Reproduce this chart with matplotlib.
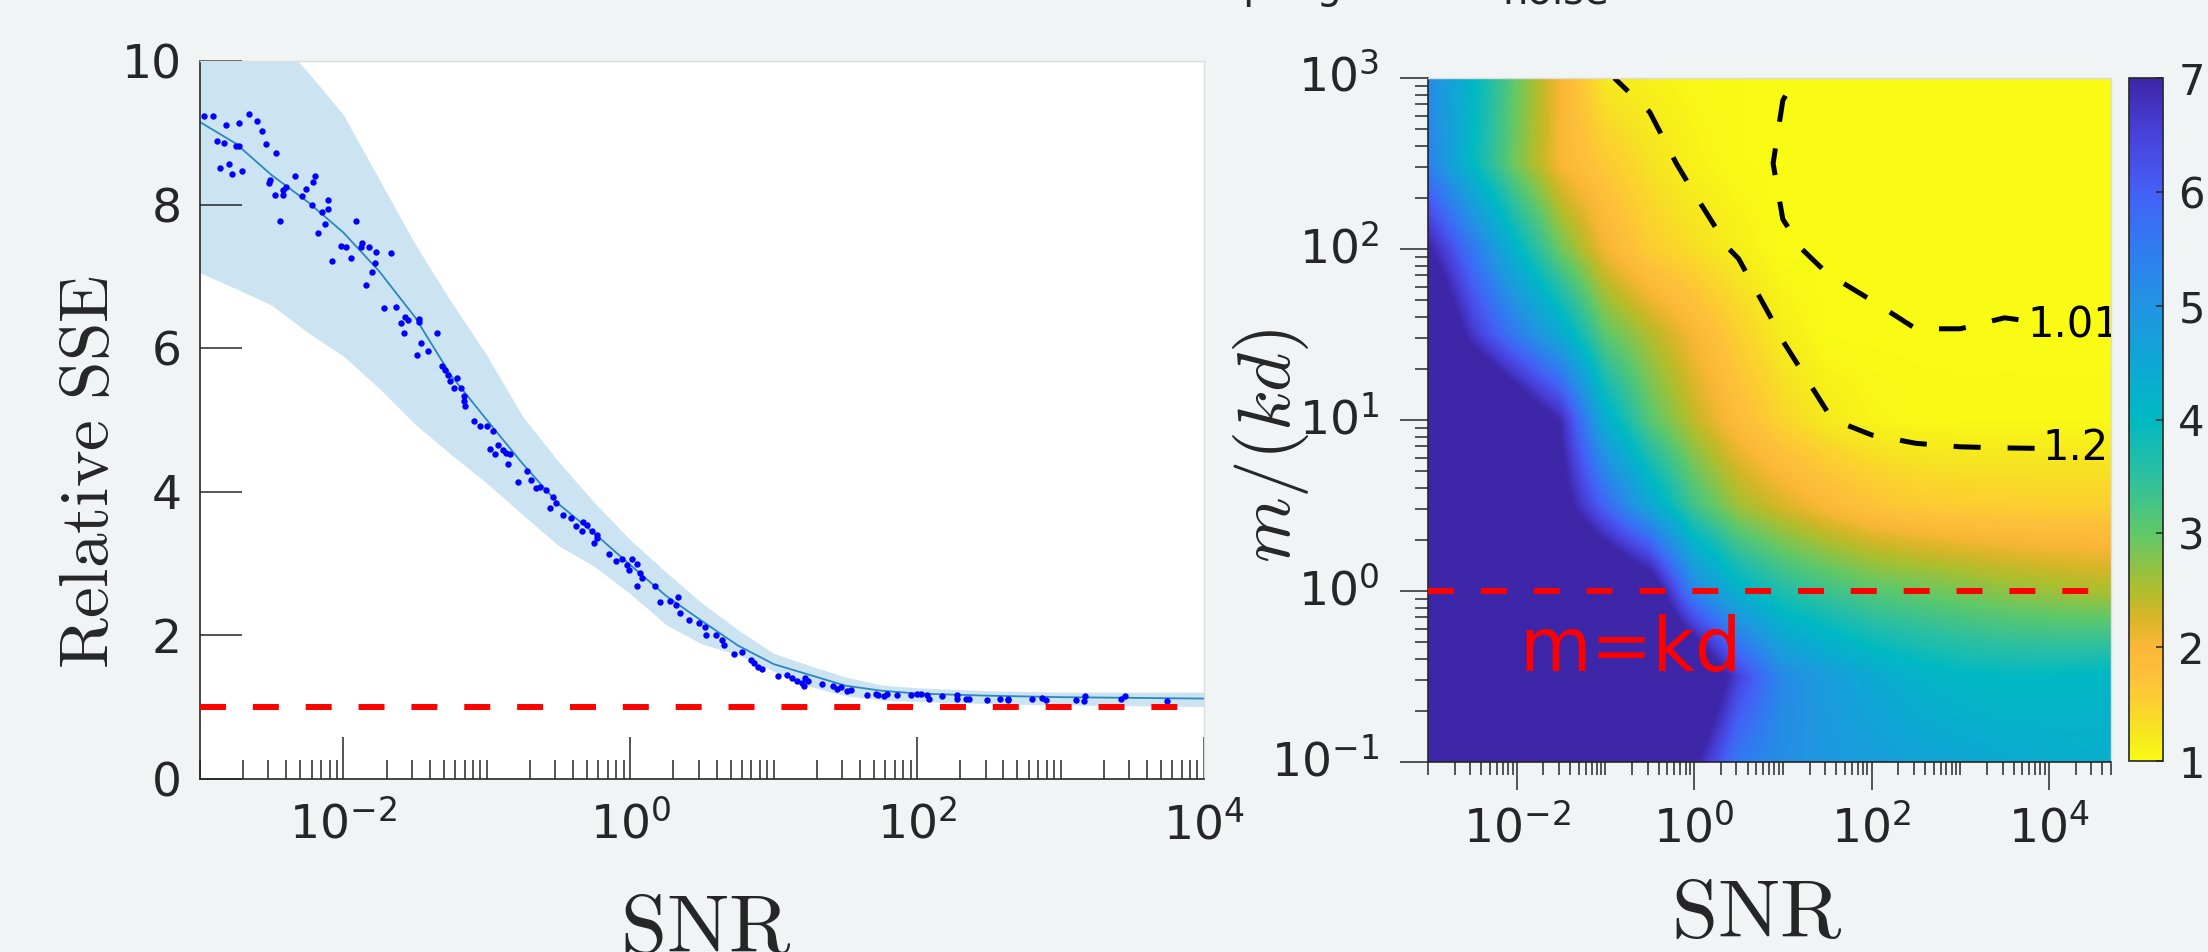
import numpy as np
import matplotlib
matplotlib.use('Agg')
import matplotlib.pyplot as plt
from matplotlib.colors import LinearSegmentedColormap
from matplotlib.ticker import FixedLocator, FixedFormatter, NullFormatter

plt.rcParams['font.family'] = ['DejaVu Sans']
plt.rcParams['mathtext.fontset'] = 'dejavusans'

DARK = '#262626'

# ---------------- left panel data (log10 SNR, relative SSE) ----------------
band_log_snr = [-3, -2.75, -2.5, -2.25, -2.0, -1.75, -1.5, -1.25, -1.0, -0.75, -0.5, -0.25,
                0.0, 0.25, 0.5, 0.75, 1.0, 1.25, 1.5, 1.75, 2.0, 2.5, 3.0, 3.5, 4.0]
band_hi = [11.5, 10.9, 10.4, 9.85, 9.25, 8.35, 7.45, 6.65, 5.9, 5.05, 4.42, 3.85,
           3.33, 2.88, 2.45, 2.08, 1.75, 1.58, 1.42, 1.31, 1.27, 1.23, 1.21, 1.21, 1.21]
band_lo = [7.05, 6.83, 6.6, 6.22, 5.89, 5.44, 4.94, 4.52, 4.12, 3.68, 3.25, 2.96,
           2.58, 2.15, 1.88, 1.73, 1.5, 1.29, 1.16, 1.1, 1.08, 1.05, 1.03, 1.02, 1.01]
mean_sse = [9.15, 8.85, 8.41, 8.04, 7.61, 7.07, 6.43, 5.62, 5.0, 4.39, 3.83, 3.42,
            2.98, 2.55, 2.2, 1.86, 1.6, 1.45, 1.3, 1.23, 1.19, 1.16, 1.14, 1.13, 1.12]

pts_log_snr = [
    -2.97, -2.91, -2.82, -2.73, -2.66, -2.60, -2.57, -2.88, -2.83, -2.75, -2.73, -2.54, -2.47,
    -2.86, -2.80, -2.78, -2.71, -2.34, -2.20, -2.51, -2.52, -2.21, -2.26, -2.40, -2.42, -2.42,
    -2.48, -2.29, -2.22, -2.11, -2.11, -2.15, -2.13, -2.44, -2.18, -1.91, -2.02, -1.98, -1.87,
    -1.88, -1.82, -1.77, -1.67, -2.08, -1.95, -1.78, -1.80, -1.84, -1.72, -1.63, -1.57, -1.55,
    -1.47, -1.47, -1.60, -1.58, -1.35, -1.46, -1.41, -1.49, -1.31, -1.29, -1.27, -1.21, -1.26,
    -1.23, -1.18,
    -1.16, -1.16, -1.15, -1.09, -1.05, -1.00, -0.96, -0.98, -0.94, -0.92, -0.89, -0.87, -0.84,
    -0.85, -0.72, -0.78, -0.69, -0.66, -0.63, -0.59, -0.54, -0.52, -0.56, -0.47, -0.41, -0.38,
    -0.34, -0.33, -0.30, -0.27, -0.23, -0.23, -0.25, -0.15, -0.10, -0.06, -0.02, 0.01, 0.05,
    -0.01, 0.07, 0.08, 0.05, 0.17, 0.21, 0.28, 0.33, 0.32, 0.35, 0.41, 0.48, 0.52, 0.53, 0.60,
    0.64, 0.65, 0.72, 0.78, 0.84, 0.86, 0.89, 0.92, 1.03, 1.09, 1.13, 1.16, 1.20, 1.22, 1.21,
    1.24, 1.34, 1.41, 1.44, 1.47, 1.51, 1.54, 1.65, 1.71, 1.73, 1.77, 1.79, 1.86, 1.96, 2.00,
    2.03, 2.07, 2.08, 2.17, 2.28, 2.28, 2.34, 2.36, 2.49, 2.58, 2.63, 2.63, 2.80, 2.87, 2.90,
    3.11, 3.16, 3.17, 3.42, 3.45, 3.74]
pts_sse = [
    9.23, 9.23, 9.11, 9.13, 9.26, 9.16, 9.02, 8.89, 8.86, 8.81, 8.81, 8.84, 8.72,
    8.51, 8.56, 8.42, 8.47, 8.40, 8.40, 8.34, 8.30, 8.31, 8.22, 8.24, 8.20, 8.14,
    8.14, 8.12, 8.00, 8.06, 7.94, 7.89, 7.73, 7.77, 7.61, 7.77, 7.43, 7.41, 7.47,
    7.41, 7.41, 7.34, 7.32, 7.22, 7.25, 7.18, 7.06, 6.88, 6.56, 6.58, 6.44, 6.39,
    6.41, 6.37, 6.35, 6.21, 6.21, 6.07, 5.96, 5.91, 5.75, 5.70, 5.63, 5.59, 5.54,
    5.45, 5.45,
    5.33, 5.26, 5.20, 4.99, 4.92, 4.92, 4.85, 4.60, 4.53, 4.65, 4.58, 4.54, 4.52,
    4.39, 4.29, 4.14, 4.16, 4.05, 4.07, 4.03, 3.93, 3.84, 3.78, 3.67, 3.63, 3.52,
    3.45, 3.58, 3.54, 3.45, 3.40, 3.35, 3.28, 3.14, 3.03, 3.06, 2.98, 3.06, 3.00,
    2.91, 2.87, 2.80, 2.69, 2.69, 2.47, 2.48, 2.54, 2.42, 2.31, 2.21, 2.17, 2.12, 2.01, 2.01,
    1.94, 1.87, 1.74, 1.77, 1.66, 1.61, 1.56, 1.53, 1.44, 1.45, 1.40, 1.37, 1.34, 1.40, 1.30,
    1.37, 1.32, 1.30, 1.26, 1.28, 1.22, 1.24, 1.17, 1.19, 1.17, 1.15, 1.18, 1.17, 1.17, 1.19,
    1.18, 1.17, 1.11, 1.15, 1.17, 1.11, 1.12, 1.12, 1.10, 1.11, 1.12, 1.10, 1.12, 1.13, 1.10,
    1.10, 1.08, 1.15, 1.12, 1.16, 1.08]

ref_sse = 1.0

# ---------------- right panel data (log10 SNR x log10 m/(kd)) ----------------
hm_log_snr = [-3.0, -2.5, -2.0, -1.5, -1.0, -0.5, 0.0, 0.5, 1.0, 1.5, 2.0, 2.5, 3.0, 3.5, 4.0, 4.5, 5.0]
hm_log_m = [-1.0, -0.5, 0.0, 0.5, 1.0, 1.5, 2.0, 2.5, 3.0]
hm_sse = [
    [9, 9, 9, 9, 9, 8.5, 7.1, 5.5, 5.1, 4.9, 4.75, 4.6, 4.5, 4.4, 4.35, 4.3, 4.3],
    [9, 9, 9, 9, 9, 9, 8.5, 6.5, 5.2, 4.8, 4.45, 4.2, 4.05, 4.0, 4.0, 4.05, 4.1],
    [9, 9, 9, 9, 8.5, 7.8, 5.3, 4.2, 3.65, 3.35, 3.1, 2.98, 2.85, 2.72, 2.62, 2.55, 2.5],
    [9, 9, 8.5, 7.4, 5.9, 4.5, 3.3, 2.6, 2.25, 1.95, 1.72, 1.6, 1.55, 1.53, 1.52, 1.52, 1.52],
    [9, 9, 8, 6.9, 4.3, 3.1, 2.4, 1.85, 1.45, 1.22, 1.09, 1.05, 1.04, 1.04, 1.04, 1.04, 1.04],
    [8.5, 6.7, 5.5, 4.4, 3.05, 2.5, 2.0, 1.52, 1.18, 1.02, 1.014, 1.0105, 1.0105, 1.0117, 1.011, 1.0107, 1.0107],
    [7.1, 5.6, 4.1, 2.9, 2.05, 1.55, 1.35, 1.16, 1.013, 1.006, 1.004, 1.003, 1.003, 1.003, 1.003, 1.003, 1.003],
    [5.4, 4.0, 2.85, 2.0, 1.6, 1.32, 1.12, 1.03, 1.0044, 1.003, 1.003, 1.003, 1.003, 1.003, 1.003, 1.003, 1.003],
    [5.2, 4.1, 2.95, 2.0, 1.22, 1.12, 1.05, 1.025, 1.012, 1.005, 1.003, 1.003, 1.003, 1.003, 1.003, 1.003, 1.003],
]
contour_levels = [1.01, 1.2]
contour_fmt = {1.01: '1.01', 1.2: '1.2'}
label_spots = [(4.28, 1.55), (4.30, 0.81)]
cbar_ticks = [1, 2, 3, 4, 5, 6, 7]

# reversed parula-like colormap, sampled from the colour bar
cmap_vals = [1, 1.25, 1.5, 1.75, 2, 2.25, 2.5, 2.75, 3, 3.5, 4, 4.5, 5, 5.5, 6, 6.5, 7]
cmap_cols = ['#f9fb14', '#f6e620', '#fcd030', '#fec03a', '#fab737', '#d7b628', '#afbe2d',
             '#87c34b', '#5fc869', '#2dc0a0', '#00b9c3', '#0fa7d5', '#2194e2', '#307cf0',
             '#4460f6', '#4842dc', '#3e26a8']
pos = [(v - 1) / 6 for v in cmap_vals]
cmap = LinearSegmentedColormap.from_list('parula_r', list(zip(pos, cmap_cols)))
cmap.set_over(cmap_cols[-1])
cmap.set_under(cmap_cols[0])

W, H = 2208, 952
fig = plt.figure(figsize=(W / 100, H / 100), dpi=100, facecolor='#f0f4f5')

def px_axes(x0, y0, x1, y1):
    return fig.add_axes([x0 / W, 1 - y1 / H, (x1 - x0) / W, (y1 - y0) / H])

# ---------------- left panel ----------------
ax1 = px_axes(200, 61, 1204, 779)
ax1.set_facecolor('white')
bx = 10.0 ** np.array(band_log_snr)
ax1.fill_between(bx, band_lo, band_hi, color='#cce3f1', lw=0, zorder=1)
ax1.plot(bx, mean_sse, color='#2a88c0', lw=1.3, zorder=2)
ax1.plot(10.0 ** np.array(pts_log_snr), pts_sse, 'o', ms=4.6, color='#0000ff', mec='none', zorder=3)
ax1.axhline(ref_sse, color='#ff0000', lw=4.3, ls=(0, (4.35, 4.5)), zorder=4)
ax1.set_xscale('log')
ax1.set_xlim(1e-3, 1e4)
ax1.set_ylim(0, 10)
ax1.set_yticks([0, 2, 4, 6, 8, 10])
maj1 = [1e-2, 1e0, 1e2, 1e4]
ax1.xaxis.set_major_locator(FixedLocator(maj1))
ax1.xaxis.set_major_formatter(FixedFormatter([r'$10^{-2}$', r'$10^{0}$', r'$10^{2}$', r'$10^{4}$']))
min1 = [k * 10.0 ** d for d in range(-3, 4) for k in range(1, 10) if not (k == 1 and d % 2 == 0 and d >= -2)]
ax1.xaxis.set_minor_locator(FixedLocator(min1))
ax1.xaxis.set_minor_formatter(NullFormatter())
ax1.tick_params(which='major', direction='in', length=30, width=1.1, color=DARK,
                labelsize=34, labelcolor=DARK)
ax1.tick_params(axis='x', which='minor', direction='in', length=14, width=1.1, color=DARK)
ax1.tick_params(axis='x', which='major', pad=16)
ax1.tick_params(axis='y', which='major', pad=13)
for s in ['left', 'bottom']:
    ax1.spines[s].set_color(DARK)
    ax1.spines[s].set_linewidth(1.2)
for s in ['top', 'right']:
    ax1.spines[s].set_color('#dcdcdc')
    ax1.spines[s].set_linewidth(1.0)

# ---------------- right panel ----------------
ax2 = px_axes(1428, 78, 2111, 762)
Z = np.array(hm_sse)
du = hm_log_snr[1] - hm_log_snr[0]
dv = hm_log_m[1] - hm_log_m[0]
ext = (hm_log_snr[0] - du / 2, hm_log_snr[-1] + du / 2, hm_log_m[0] - dv / 2, hm_log_m[-1] + dv / 2)
im = ax2.imshow(Z, extent=ext, origin='lower', cmap=cmap, vmin=1, vmax=7, aspect='auto',
                interpolation='bilinear', interpolation_stage='data', zorder=1)
plt.rcParams['lines.dashed_pattern'] = [5.4, 5.4]
cs = ax2.contour(hm_log_snr, hm_log_m, Z, levels=contour_levels, colors='k',
                 linewidths=3.6, linestyles='--', zorder=2)
lbls = ax2.clabel(cs, fmt=contour_fmt, manual=label_spots, fontsize=30, inline=True,
                  inline_spacing=4)
for t in lbls:
    t.set_rotation(0)
ax2.axhline(0, color='#ff0000', lw=4.3, ls=(0, (4.35, 4.5)), zorder=3)
ax2.text(-1.97, -0.47, 'm=kd', color='#ff0000', fontsize=53, ha='left', va='baseline', zorder=4)
ax2.set_xlim(-3, 4.7)
ax2.set_ylim(-1, 3)
ax2.xaxis.set_major_locator(FixedLocator([-2, 0, 2, 4]))
ax2.xaxis.set_major_formatter(FixedFormatter([r'$10^{-2}$', r'$10^{0}$', r'$10^{2}$', r'$10^{4}$']))
min2x = [np.log10(k) + d for d in range(-3, 5) for k in range(1, 10)
         if not (k == 1 and d % 2 == 0) and np.log10(k) + d <= 4.7]
ax2.xaxis.set_minor_locator(FixedLocator(min2x))
ax2.yaxis.set_major_locator(FixedLocator([-1, 0, 1, 2, 3]))
ax2.yaxis.set_major_formatter(FixedFormatter([r'$10^{-1}$', r'$10^{0}$', r'$10^{1}$', r'$10^{2}$', r'$10^{3}$']))
min2y = [np.log10(k) + d for d in range(-1, 3) for k in range(2, 10)]
ax2.yaxis.set_minor_locator(FixedLocator(min2y))
ax2.tick_params(which='major', direction='out', length=20, width=1.1, color=DARK,
                labelsize=34, labelcolor=DARK)
ax2.tick_params(which='minor', direction='out', length=9.4, width=1.1, color=DARK)
ax2.tick_params(axis='x', which='major', pad=11)
ax2.tick_params(axis='y', which='major', pad=15)
for t in ax2.get_yticklabels():
    t.set_verticalalignment('center')
for s in ['left', 'bottom']:
    ax2.spines[s].set_color(DARK)
    ax2.spines[s].set_linewidth(1.2)
for s in ['top', 'right']:
    ax2.spines[s].set_color('#dcdcdc')
    ax2.spines[s].set_linewidth(1.0)

# ---------------- colour bar ----------------
cax = px_axes(2129, 78, 2163, 761)
cb = fig.colorbar(im, cax=cax, ticks=cbar_ticks)
cb.ax.tick_params(direction='in', length=5, width=1.1, color=DARK, labelsize=30,
                  labelcolor=DARK, pad=11)
cb.ax.minorticks_off()
cb.outline.set_edgecolor(DARK)
cb.outline.set_linewidth(1.2)

# ---------------- labels ----------------
fig.text(108 / W, 1 - 472 / H, r'$\mathrm{Relative\ SSE}$', rotation=90, rotation_mode='anchor',
         ha='center', va='baseline', fontsize=50, math_fontfamily='cm', color=DARK)
fig.text(706 / W, 0.0, r'$\mathrm{SNR}$', ha='center', va='baseline', fontsize=60,
         math_fontfamily='cm', color=DARK)
fig.text(1757 / W, 15 / H, r'$\mathrm{SNR}$', ha='center', va='baseline', fontsize=60,
         math_fontfamily='cm', color=DARK)
fig.text(1290 / W, 1 - 446 / H, r'$m/(kd)$', rotation=90, rotation_mode='anchor',
         ha='center', va='baseline', fontsize=54, math_fontfamily='cm', color=DARK)

# title, mostly cut off by the top edge
fig.text(1154 / W, 1 + 2 / H, 'Sampling with', fontsize=29, ha='left', va='baseline', color=DARK)
fig.text(1502 / W, 1 - 4 / H, 'noise', fontsize=29, ha='left', va='baseline', color=DARK)

fig.savefig('out.png', dpi=100, facecolor=fig.get_facecolor())
